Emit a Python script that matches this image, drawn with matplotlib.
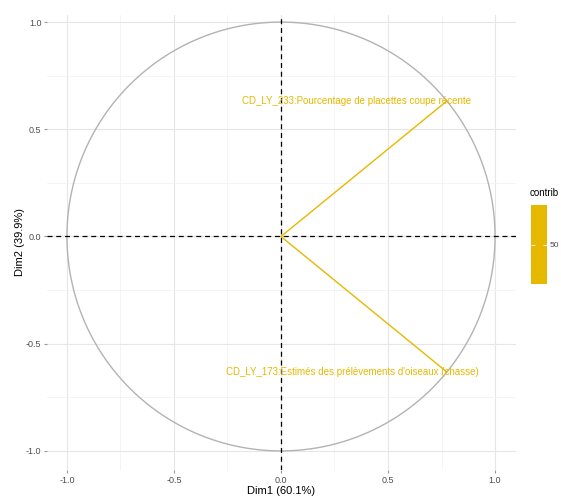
import matplotlib.pyplot as plt
import numpy as np
from matplotlib.colors import ListedColormap, Normalize
from matplotlib.cm import ScalarMappable

plt.rcParams['font.family'] = ['Liberation Sans', 'DejaVu Sans']

# variable coordinates on the first two dimensions
var_names = ['CD_LY_233:Pourcentage de placettes coupe récente',
             "CD_LY_173:Estimés des prélèvements d'oiseaux (chasse)"]
dim1 = [0.775, 0.775]
dim2 = [0.632, -0.632]
contrib = [50, 50]
label_shift = [-0.42, -0.44]

ticks = [-1.0, -0.5, 0.0, 0.5, 1.0]
tick_labels = ['-1.0', '-0.5', '0.0', '0.5', '1.0']

gold = '#E7B800'
grey_txt = '#4D4D4D'

fig = plt.figure(figsize=(5.61, 5.0), dpi=100)
ax = fig.add_axes([0.0838, 0.06, 0.836, 0.91])

# grid like theme_minimal
ax.set_xticks(ticks)
ax.set_yticks(ticks)
ax.set_xticklabels(tick_labels)
ax.set_yticklabels(tick_labels)
ax.set_xticks(np.arange(-0.75, 1.0, 0.5), minor=True)
ax.set_yticks(np.arange(-0.75, 1.0, 0.5), minor=True)
ax.grid(which='major', color='#E6E6E6', lw=0.8)
ax.grid(which='minor', color='#F2F2F2', lw=0.6)
ax.set_axisbelow(True)
for s in ax.spines.values():
    s.set_visible(False)
ax.tick_params(which='major', length=2, color='#999999', labelsize=6.5, labelcolor=grey_txt, pad=2)
ax.tick_params(which='minor', length=0)

# correlation circle
t = np.linspace(0, 2 * np.pi, 400)
ax.plot(np.cos(t), np.sin(t), color='#B3B3B3', lw=1.0)

ax.axhline(0, color='black', ls=(0, (4, 3)), lw=0.9)
ax.axvline(0, color='black', ls=(0, (4, 3)), lw=0.9)

for name, x, y, dx in zip(var_names, dim1, dim2, label_shift):
    ax.plot([0, x], [0, y], color=gold, lw=1.0)
    ax.text(x + dx, y, name, color=gold, fontsize=7, ha='center', va='center')

ax.set_xlim(-1.093, 1.098)
ax.set_ylim(-1.089, 1.033)
ax.set_xlabel('Dim1 (60.1%)', fontsize=8, labelpad=1)
ax.set_ylabel('Dim2 (39.9%)', fontsize=8, labelpad=1)

# contrib legend
cax = fig.add_axes([0.946, 0.432, 0.029, 0.158])
sm = ScalarMappable(norm=Normalize(min(contrib) - 30, max(contrib) + 30),
                    cmap=ListedColormap([gold]))
cb = fig.colorbar(sm, cax=cax, ticks=[50])
cb.outline.set_visible(False)
cax.tick_params(axis='y', direction='in', color='white', left=True, right=True,
                length=3, width=0.6, labelsize=6, labelcolor=grey_txt, pad=2)
fig.text(0.944, 0.605, 'contrib', fontsize=7, ha='left', va='bottom')

fig.savefig('out.png', dpi=100)
